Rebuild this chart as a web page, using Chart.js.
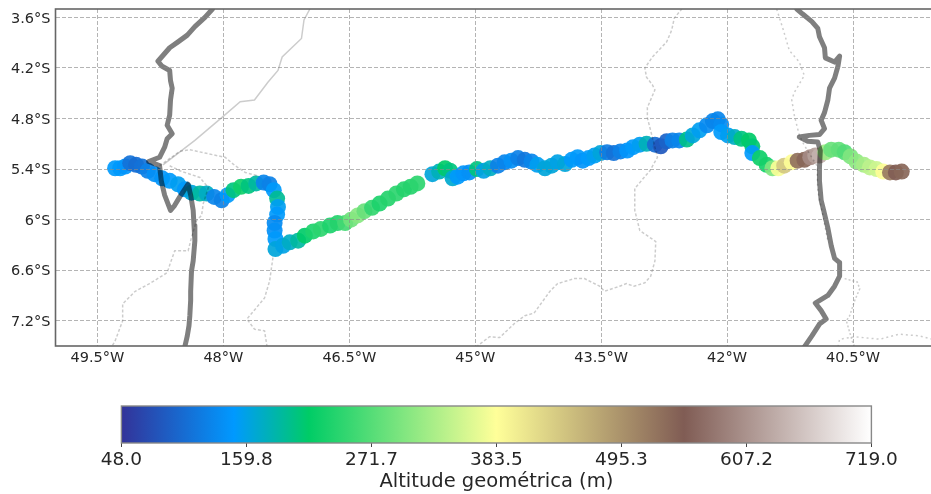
<!DOCTYPE html>
<html>
<head>
<meta charset="utf-8">
<title>Altitude geométrica</title>
<script src="https://cdn.jsdelivr.net/npm/chart.js@4"></script>
<style>
    html, body { margin: 0; padding: 0; background: #fff; overflow: hidden; width: 931px; height: 494px; }
    canvas { position: absolute; left: 0; filter: blur(0.4px); }
    #mapa { top: 0; }
    #barra { top: 385px; }
</style>
</head>
<body>
<canvas id="mapa" width="945" height="370"></canvas>
<canvas id="barra" width="931" height="109"></canvas>
<script>
const lonTicks = [-49.5, -48, -46.5, -45, -43.5, -42, -40.5];
const latTicks = [-3.6, -4.2, -4.8, -5.4, -6, -6.6, -7.2];
const altTicks = [48.0, 159.8, 271.7, 383.5, 495.3, 607.2, 719.0];

// trajeto
const trackLon = [-49.29, -49.23, -49.17, -49.11, -49.04, -48.97, -48.90, -48.82, -48.73, -48.64, -48.54, -48.46, -48.38, -48.28, -48.20, -48.11, -48.02, -47.95, -47.88, -47.79, -47.70, -47.61, -47.52, -47.45, -47.40, -47.36, -47.35, -47.36, -47.39, -47.39, -47.38, -47.38, -47.29, -47.21, -47.11, -47.03, -46.93, -46.84, -46.73, -46.64, -46.55, -46.48, -46.40, -46.32, -46.23, -46.14, -46.04, -45.94, -45.85, -45.77, -45.69,
    -45.51, -45.43, -45.36, -45.30, -45.27, -45.21, -45.14, -45.07, -44.98, -44.90, -44.82, -44.73, -44.65, -44.57, -44.49, -44.41, -44.33, -44.26, -44.17, -44.09, -44.02, -43.93, -43.85, -43.78, -43.72, -43.65, -43.58, -43.51, -43.43, -43.35, -43.27, -43.19, -43.12, -43.04, -42.96, -42.86, -42.79, -42.72, -42.65, -42.57, -42.48, -42.41, -42.33, -42.24, -42.17, -42.11, -42.07, -42.07, -41.99, -41.91, -41.83, -41.74, -41.70, -41.70, -41.61, -41.53, -41.46, -41.39, -41.32, -41.23, -41.16, -41.08, -41.01, -40.95, -40.90, -40.83, -40.76, -40.67, -40.60, -40.53, -40.46, -40.37, -40.30, -40.22, -40.14, -40.06, -39.99, -39.92];
const trackLat = [-5.39, -5.39, -5.37, -5.33, -5.35, -5.37, -5.42, -5.46, -5.51, -5.54, -5.58, -5.64, -5.68, -5.69, -5.69, -5.73, -5.77, -5.71, -5.65, -5.61, -5.60, -5.57, -5.56, -5.58, -5.65, -5.75, -5.85, -5.94, -6.04, -6.13, -6.23, -6.35, -6.31, -6.27, -6.25, -6.19, -6.14, -6.11, -6.07, -6.04, -6.04, -6.00, -5.95, -5.90, -5.86, -5.81, -5.75, -5.69, -5.64, -5.61, -5.57,
    -5.46, -5.43, -5.39, -5.42, -5.51, -5.49, -5.45, -5.44, -5.40, -5.42, -5.39, -5.36, -5.32, -5.30, -5.27, -5.29, -5.31, -5.35, -5.39, -5.36, -5.32, -5.34, -5.29, -5.26, -5.30, -5.27, -5.24, -5.21, -5.20, -5.21, -5.19, -5.18, -5.14, -5.11, -5.10, -5.11, -5.13, -5.07, -5.06, -5.06, -5.05, -5.00, -4.94, -4.88, -4.83, -4.81, -4.87, -4.96, -5.00, -5.02, -5.04, -5.06, -5.13, -5.21, -5.27, -5.35, -5.39, -5.39, -5.36, -5.32, -5.30, -5.29, -5.26, -5.24, -5.24, -5.20, -5.17, -5.17, -5.20, -5.25, -5.31, -5.35, -5.38, -5.40, -5.43, -5.44, -5.44, -5.43];
const trackAlt = [150, 150, 145, 110, 105, 110, 125, 140, 145, 150, 155, 150, 165, 190, 175, 130, 125, 150, 205, 225, 205, 190, 130, 125, 150, 195, 155, 150, 135, 140, 150, 165, 160, 175, 190, 215, 235, 245, 235, 240, 260, 290, 305, 285, 250, 235, 240, 245, 240, 240, 245,
    165, 180, 215, 205, 170, 150, 145, 140, 205, 160, 175, 125, 130, 140, 125, 115, 130, 155, 165, 165, 160, 165, 150, 150, 145, 150, 155, 165, 120, 110, 125, 145, 150, 155, 180, 105, 85, 95, 125, 130, 200, 165, 155, 135, 130, 130, 135, 150, 155, 175, 205, 215, 210, 150, 225, 230, 300, 380, 440, 385, 530, 540, 600, 620, 640, 320, 285, 280, 270, 300, 310, 325, 340, 350, 385, 520, 550, 540];

// limites mais grossos
const westLon = [-48.13, -48.22, -48.34, -48.43, -48.54, -48.64, -48.78, -48.73, -48.64, -48.63, -48.61, -48.63, -48.64, -48.67, -48.61, -48.67, -48.70, -48.76, -48.89, -48.76, -48.74, -48.70, -48.63, -48.58, -48.52, -48.42, -48.39, -48.36, -48.35, -48.34, -48.36, -48.38, -48.39, -48.39, -48.40, -48.41, -48.43, -48.46];
const westLat = [-3.50, -3.60, -3.71, -3.81, -3.89, -3.96, -4.12, -4.18, -4.23, -4.35, -4.44, -4.58, -4.76, -4.88, -4.98, -5.04, -5.14, -5.26, -5.31, -5.36, -5.54, -5.71, -5.89, -5.83, -5.73, -5.58, -5.71, -5.89, -6.07, -6.25, -6.49, -6.61, -6.85, -6.96, -7.14, -7.26, -7.38, -7.51];
const eastLon = [-41.17, -41.10, -40.99, -40.92, -40.90, -40.84, -40.83, -40.72, -40.66, -40.68, -40.72, -40.78, -40.80, -40.84, -40.88, -40.84, -40.90, -41.02, -41.14, -41.04, -40.92, -40.89, -40.90, -40.90, -40.88, -40.85, -40.80, -40.76, -40.72, -40.66, -40.66, -40.72, -40.80, -40.95, -40.88, -40.82, -40.90, -40.99, -41.08];
const eastLat = [-3.50, -3.56, -3.65, -3.73, -3.83, -3.96, -4.08, -4.13, -4.06, -4.18, -4.32, -4.44, -4.58, -4.73, -4.82, -4.92, -4.99, -5.00, -5.02, -5.07, -5.08, -5.18, -5.38, -5.54, -5.77, -5.89, -6.10, -6.31, -6.46, -6.51, -6.67, -6.79, -6.90, -6.99, -7.08, -7.18, -7.24, -7.38, -7.51];

// limites finos
const diagLon = [-46.97, -47.04, -47.07, -47.30, -47.35, -47.47, -47.63, -47.80, -48.02, -48.34, -48.72];
const diagLat = [-3.50, -3.63, -3.85, -4.07, -4.23, -4.37, -4.58, -4.60, -4.79, -5.06, -5.35];
const archLon = [-48.76, -48.52, -48.40, -48.22, -47.98, -47.86, -47.74, -47.59];
const archLat = [-5.36, -5.19, -5.17, -5.21, -5.26, -5.36, -5.44, -5.48];
const southwestLon = [-48.64, -48.52, -48.28, -48.18, -48.24, -48.26, -48.32, -48.38, -48.42, -48.58, -48.63, -48.67, -48.88, -49.05, -49.20, -49.20, -49.29, -49.33];
const southwestLat = [-5.36, -5.42, -5.50, -5.62, -5.81, -5.95, -6.01, -6.21, -6.37, -6.37, -6.51, -6.63, -6.76, -6.85, -7.00, -7.20, -7.44, -7.51];
const southLon = [-47.41, -47.45, -47.51, -47.72, -47.63, -47.51, -47.48];
const southLat = [-6.45, -6.73, -6.93, -7.18, -7.30, -7.32, -7.51];
const centerLon = [-44.99, -44.83, -44.71, -44.53, -44.41, -44.30, -44.11, -44.02, -43.82, -43.70, -43.52, -43.46, -43.28, -43.20, -43.11, -42.98, -42.91, -42.86, -42.85, -43.04, -43.10, -43.10, -42.92, -42.83, -42.95, -42.95, -42.86, -42.89, -42.96, -42.98, -42.89, -42.72, -42.66, -42.63, -42.54];
const centerLat = [-7.51, -7.39, -7.40, -7.23, -7.14, -7.11, -6.85, -6.76, -6.70, -6.70, -6.79, -6.85, -6.79, -6.76, -6.79, -6.75, -6.67, -6.49, -6.26, -6.13, -5.89, -5.63, -5.42, -5.26, -4.79, -4.67, -4.46, -4.40, -4.31, -4.20, -4.07, -3.89, -3.75, -3.61, -3.50];
const dotsLon = [-41.41, -41.33, -41.26, -41.14, -41.08, -41.20, -41.23, -41.20, -41.14, -41.08, -40.93, -40.92, -40.86, -40.80];
const dotsLat = [-3.50, -3.75, -3.99, -4.13, -4.29, -4.49, -4.58, -4.76, -5.00, -5.12, -5.36, -5.66, -5.95, -6.25];
const hookLon = [-40.60, -40.45, -40.42, -40.48, -40.54, -40.58, -40.51, -40.48];
const hookLat = [-6.70, -6.74, -6.82, -6.96, -7.14, -7.20, -7.44, -7.51];
const coastLon = [-40.68, -40.66, -40.48, -40.18, -39.95, -39.71, -39.47];
const coastLat = [-7.51, -7.42, -7.39, -7.42, -7.36, -7.38, -7.44];

// colormap terrain
const terrainPos = [0, 0.15, 0.25, 0.5, 0.75, 1];
const terrainRgb = [[51, 51, 153], [0, 153, 255], [0, 204, 102], [255, 255, 153], [128, 92, 84], [255, 255, 255]];

const altMin = altTicks[0];
const altMax = altTicks[altTicks.length - 1];

function terrainColor(alt, alpha) {
    const t = (alt - altMin) / (altMax - altMin);
    let i = 0;
    while (i < terrainPos.length - 2 && t > terrainPos[i + 1]) i++;
    const f = (t - terrainPos[i]) / (terrainPos[i + 1] - terrainPos[i]);
    const c = terrainRgb[i].map((v, k) => Math.round(v + (terrainRgb[i + 1][k] - v) * f));
    return `rgba(${c[0]}, ${c[1]}, ${c[2]}, ${alpha})`;
}

function toPoints(lons, lats) {
    return lons.map((lon, i) => ({ x: lon, y: lats[i] }));
}

function thickLine(lons, lats) {
    return {
        data: toPoints(lons, lats),
        showLine: true,
        pointRadius: 0,
        borderColor: 'rgba(0, 0, 0, 0.5)',
        borderWidth: 5,
        borderJoinStyle: 'round',
        borderCapStyle: 'round'
    };
}

function thinLine(lons, lats, dash) {
    return {
        data: toPoints(lons, lats),
        showLine: true,
        pointRadius: 0,
        borderColor: 'rgba(0, 0, 0, 0.2)',
        borderWidth: 1.5,
        borderDash: dash
    };
}

const framePlugin = {
    id: 'frame',
    afterDraw(chart, args, opts) {
        const a = chart.chartArea;
        const ctx = chart.ctx;
        ctx.save();
        ctx.strokeStyle = opts.color;
        ctx.lineWidth = opts.width;
        ctx.strokeRect(a.left, a.top, a.right - a.left, a.bottom - a.top);
        ctx.restore();
    }
};

// sem folga extra para os rotulos das pontas
function noLabelPadding(s) {
    s.paddingTop = 0;
    s.paddingBottom = 0;
    s.paddingLeft = 0;
    s.paddingRight = 0;
}

Chart.defaults.font.family = '"DejaVu Sans", sans-serif';
Chart.defaults.color = '#262626';
Chart.defaults.animation = false;

new Chart(document.getElementById('mapa'), {
    type: 'scatter',
    plugins: [framePlugin],
    data: {
        datasets: [
            thickLine(westLon, westLat),
            thickLine(eastLon, eastLat),
            thinLine(diagLon, diagLat, []),
            thinLine(archLon, archLat, [3, 2]),
            thinLine(southwestLon, southwestLat, [3, 2]),
            thinLine(southLon, southLat, [3, 2]),
            thinLine(centerLon, centerLat, [3, 2]),
            thinLine(dotsLon, dotsLat, [2, 3]),
            thinLine(hookLon, hookLat, [2, 2]),
            thinLine(coastLon, coastLat, [2, 3]),
            {
                data: toPoints(trackLon, trackLat),
                showLine: false,
                pointRadius: 8,
                pointBorderWidth: 0,
                pointBackgroundColor: trackAlt.map(a => terrainColor(a, 0.92))
            }
        ]
    },
    options: {
        responsive: false,
        layout: { padding: { top: 9, left: 0, right: 7.5, bottom: 0 } },
        plugins: {
            legend: { display: false },
            tooltip: { enabled: false },
            frame: { color: '#666', width: 1.6 }
        },
        scales: {
            x: {
                type: 'linear',
                min: -50,
                max: -39.5,
                afterBuildTicks: s => { s.ticks = lonTicks.map(v => ({ value: v })); },
                afterFit: s => { s.height = 24; noLabelPadding(s); },
                grid: { z: 1, color: 'rgba(140, 140, 140, 0.65)', lineWidth: 1, drawTicks: false },
                border: { display: false, dash: [4, 2] },
                ticks: {
                    padding: 4,
                    maxRotation: 0,
                    autoSkip: false,
                    font: { size: 14.5 },
                    callback: v => `${Math.abs(v)}°W`
                }
            },
            y: {
                type: 'linear',
                min: -7.5,
                max: -3.5,
                afterBuildTicks: s => { s.ticks = latTicks.map(v => ({ value: v })); },
                afterFit: s => { s.width = 55.5; noLabelPadding(s); },
                grid: { z: 1, color: 'rgba(140, 140, 140, 0.65)', lineWidth: 1, drawTicks: false },
                border: { display: false, dash: [4, 2] },
                ticks: {
                    padding: 5,
                    labelOffset: 1.5,
                    autoSkip: false,
                    font: { size: 14.5 },
                    callback: v => `${Math.abs(v)}°S`
                }
            }
        }
    }
});

new Chart(document.getElementById('barra'), {
    type: 'bar',
    plugins: [framePlugin],
    data: {
        labels: [''],
        datasets: [{
            data: [[altMin, altMax]],
            barPercentage: 1,
            categoryPercentage: 1,
            backgroundColor: c => {
                const a = c.chart.chartArea;
                if (!a) return '#888';
                const g = c.chart.ctx.createLinearGradient(a.left, 0, a.right, 0);
                terrainPos.forEach((p, i) => {
                    g.addColorStop(p, `rgb(${terrainRgb[i].join(',')})`);
                });
                return g;
            }
        }]
    },
    options: {
        indexAxis: 'y',
        responsive: false,
        layout: { padding: { top: 21, left: 121.4, right: 59.6, bottom: 0 } },
        plugins: {
            legend: { display: false },
            tooltip: { enabled: false },
            frame: { color: '#888', width: 1.4 }
        },
        scales: {
            x: {
                type: 'linear',
                min: altMin,
                max: altMax,
                afterBuildTicks: s => { s.ticks = altTicks.map(v => ({ value: v })); },
                afterFit: s => { s.height = 51; },
                grid: { drawOnChartArea: false, tickLength: 4, color: '#444' },
                border: { display: false },
                ticks: {
                    padding: 2,
                    maxRotation: 0,
                    autoSkip: false,
                    font: { size: 18.5 },
                    callback: v => v.toFixed(1)
                },
                title: {
                    display: true,
                    text: 'Altitude geométrica (m)',
                    font: { size: 19.5 },
                    padding: { top: 0, bottom: 0 }
                }
            },
            y: { display: false }
        }
    }
});
</script>
</body>
</html>
